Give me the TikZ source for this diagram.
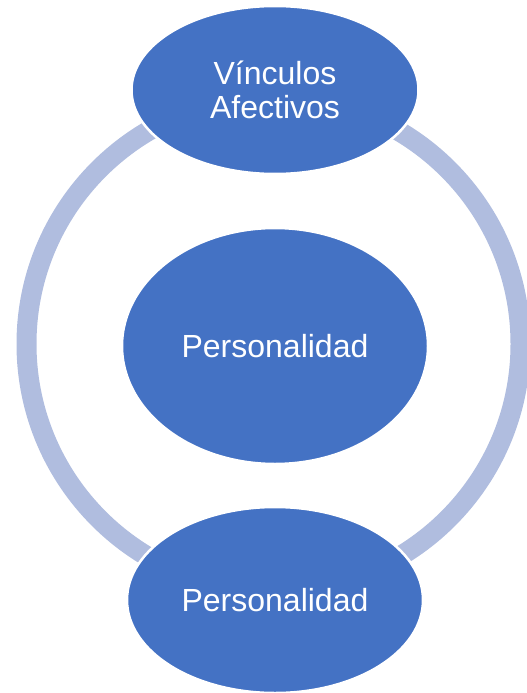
\documentclass[tikz,border=0pt]{standalone}
\usepackage{fontspec}
\setmainfont{Liberation Sans}
\usetikzlibrary{shapes.geometric}
\definecolor{ellblue}{HTML}{4472C4}
\definecolor{ringblue}{HTML}{B0BDDF}
\tikzset{
  blob/.style={ellipse, fill=ellblue, draw=white, line width=2.5pt, inner sep=0pt,
    text=white, align=center, font=\fontsize{32}{33.4}\selectfont},
  ring/.style={draw=ringblue, line width=20pt}
}
\begin{document}
\begin{tikzpicture}[x=1pt,y=-1pt]
\useasboundingbox (0,0) rectangle (527,693);
\coordinate (c) at (273.5,344);
\draw[ring] (c) circle[radius=247pt];
\node[blob, minimum width=287pt, minimum height=168pt] (top) at (275,90) {Vínculos\\Afectivos};
\node[blob, minimum width=306pt, minimum height=236pt] (mid) at (275,346) {Personalidad};
\node[blob, minimum width=296pt, minimum height=186pt] (bot) at (275,600) {Personalidad};
\end{tikzpicture}
\end{document}
